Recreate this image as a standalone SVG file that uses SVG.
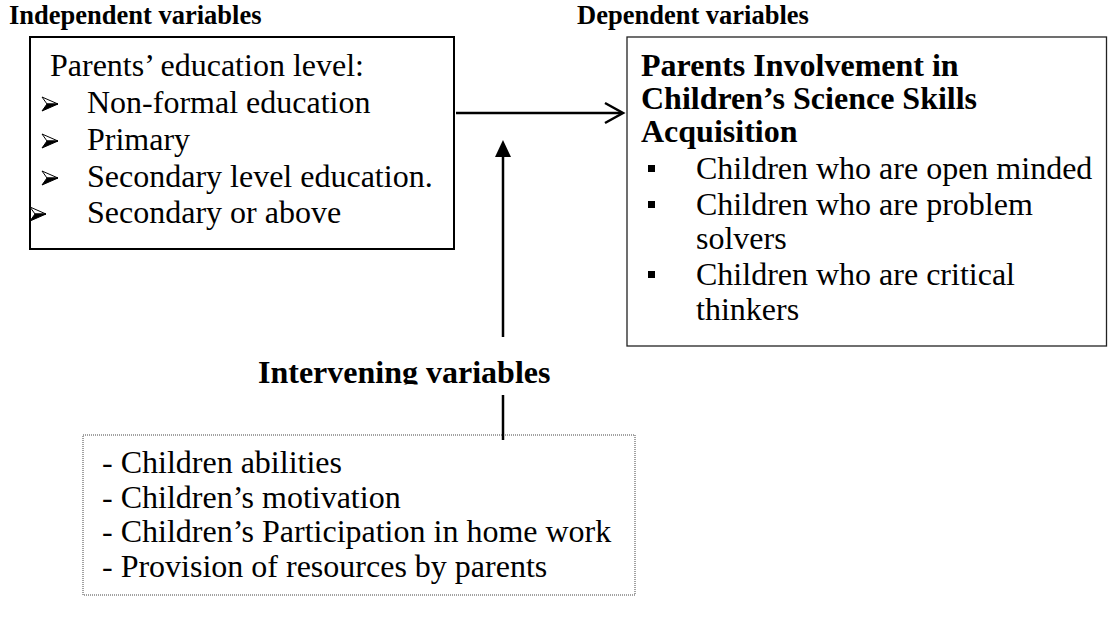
<svg xmlns="http://www.w3.org/2000/svg" width="1108" height="617" viewBox="0 0 1108 617">
<style>
.t{font-family:"Liberation Serif","Times New Roman",serif;font-size:32px;fill:#000}
.b{font-weight:bold}
.h{font-family:"Liberation Serif","Times New Roman",serif;font-size:26.5px;font-weight:bold;fill:#000}
.box{fill:#fff;stroke:#000;stroke-width:2}
.box2{fill:#fff;stroke:#222;stroke-width:1.3}
.dot{fill:#fff;stroke:#444;stroke-width:1;stroke-dasharray:1 1}
.ln{stroke:#000;stroke-width:2.5;fill:none}
.bw{fill:#fff;stroke:#000;stroke-width:1}
.bk{fill:#000;stroke:#000;stroke-width:1}
</style>
<defs>
<g id="arr">
<path class="bw" d="M0,-7 L16,0 L5,0 Z"/>
<path class="bk" d="M16,0 L5,0 L0,7 Z"/>
</g>
<clipPath id="cl"><rect x="0" y="340" width="1108" height="44.5"/></clipPath>
</defs>

<g id="independent">
<text class="h" x="9" y="24">Independent variables</text>
<rect class="box" x="30" y="37" width="424" height="212"/>
<text class="t" x="50" y="76">Parents’ education level:</text>
<use href="#arr" x="42" y="104"/>
<text class="t" x="87" y="113">Non-formal education</text>
<use href="#arr" x="42" y="141"/>
<text class="t" x="87" y="150">Primary</text>
<use href="#arr" x="42" y="178"/>
<text class="t" x="87" y="187">Secondary level education.</text>
<use href="#arr" x="30" y="214"/>
<text class="t" x="87" y="223">Secondary or above</text>
</g>

<g id="dependent">
<text class="h" x="577" y="24">Dependent variables</text>
<rect class="box2" x="627" y="37" width="479.5" height="309"/>
<text class="t b" x="641" y="76">Parents Involvement in</text>
<text class="t b" x="641" y="109">Children’s Science Skills</text>
<text class="t b" x="641" y="142">Acquisition</text>
<rect x="648" y="165" width="7" height="7"/>
<text class="t" x="696" y="179">Children who are open minded</text>
<rect x="648" y="201" width="7" height="7"/>
<text class="t" x="696" y="215">Children who are problem</text>
<text class="t" x="696" y="249">solvers</text>
<rect x="648" y="271" width="7" height="7"/>
<text class="t" x="696" y="285">Children who are critical</text>
<text class="t" x="696" y="320">thinkers</text>
</g>

<g id="intervening">
<text class="t b" x="258" y="383" clip-path="url(#cl)">Intervening variables</text>
<rect class="dot" x="83" y="435" width="552" height="160"/>
<text class="t" x="102" y="473">- Children abilities</text>
<text class="t" x="102" y="508">- Children’s motivation</text>
<text class="t" x="102" y="542">- Children’s Participation in home work</text>
<text class="t" x="102" y="577">- Provision of resources by parents</text>
</g>

<g id="connectors">
<line class="ln" x1="456" y1="113" x2="622" y2="113"/>
<polyline class="ln" points="605,103 623,113 605,123"/>
<line class="ln" x1="503" y1="155" x2="503" y2="337"/>
<path d="M503,140 L511,157 L495,157 Z" fill="#000"/>
<line class="ln" x1="503" y1="395" x2="503" y2="440"/>
</g>
</svg>
